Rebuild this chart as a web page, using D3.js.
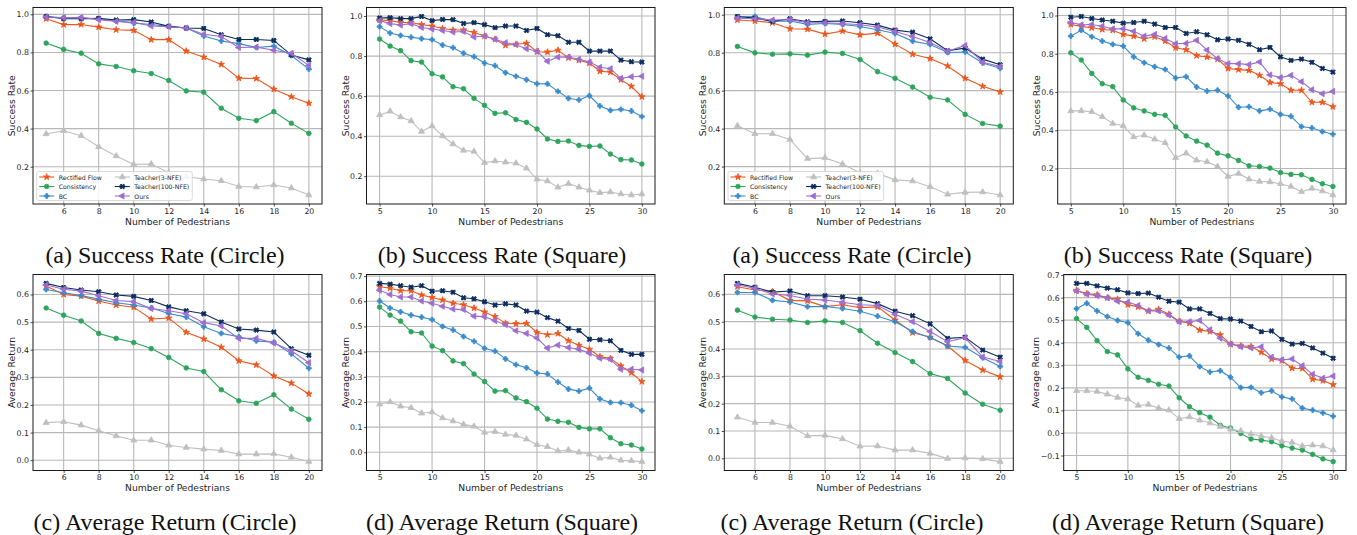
<!DOCTYPE html>
<html>
<head>
<meta charset="utf-8">
<script src="https://cdn.jsdelivr.net/npm/d3@7.9.0/dist/d3.min.js"></script>
<style>
  body { margin: 0; background: #fff; }
  svg { display: block; }
</style>
</head>
<body>
<svg id="fig" width="1357" height="535"></svg>
<script>
// Series names and x values
const seriesNames = ["Rectified Flow", "Consistency", "BC", "Teacher(3-NFE)", "Teacher(100-NFE)", "Ours"];
const xCircle = [5, 6, 7, 8, 9, 10, 11, 12, 13, 14, 15, 16, 17, 18, 19, 20];
const xSquare = [5, 6, 7, 8, 9, 10, 11, 12, 13, 14, 15, 16, 17, 18, 19, 20, 21, 22, 23, 24, 25, 26, 27, 28, 29, 30];

// Tick labels
const xTicksCircle = [6, 8, 10, 12, 14, 16, 18, 20];
const xTicksSquare = [5, 10, 15, 20, 25, 30];
const yTicksSuccess = [0.2, 0.4, 0.6, 0.8, 1.0];
const yTicksReturn6 = [0.0, 0.1, 0.2, 0.3, 0.4, 0.5, 0.6];
const yTicksReturn7 = [0.0, 0.1, 0.2, 0.3, 0.4, 0.5, 0.6, 0.7];
const yTicksReturnNeg = [-0.1, 0.0, 0.1, 0.2, 0.3, 0.4, 0.5, 0.6, 0.7];

const captions = ["(a) Success Rate (Circle)", "(b) Success Rate (Square)", "(a) Success Rate (Circle)", "(b) Success Rate (Square)",
  "(c) Average Return (Circle)", "(d) Average Return (Square)", "(c) Average Return (Circle)", "(d) Average Return (Square)"];

// rows follow seriesNames order
const srCircleA = [
  [0.977, 0.946, 0.947, 0.933, 0.919, 0.916, 0.867, 0.867, 0.807, 0.775, 0.737, 0.665, 0.663, 0.607, 0.567, 0.533],
  [0.849, 0.816, 0.796, 0.740, 0.726, 0.704, 0.689, 0.653, 0.598, 0.591, 0.507, 0.454, 0.442, 0.489, 0.428, 0.375],
  [0.989, 0.982, 0.981, 0.977, 0.965, 0.954, 0.947, 0.937, 0.928, 0.886, 0.860, 0.846, 0.826, 0.833, 0.784, 0.712],
  [0.372, 0.389, 0.363, 0.305, 0.256, 0.212, 0.214, 0.168, 0.147, 0.135, 0.126, 0.096, 0.093, 0.104, 0.088, 0.051],
  [0.989, 0.977, 0.977, 0.979, 0.970, 0.972, 0.960, 0.937, 0.928, 0.926, 0.893, 0.868, 0.868, 0.863, 0.786, 0.761],
  [0.986, 0.982, 0.984, 0.972, 0.963, 0.958, 0.939, 0.935, 0.928, 0.895, 0.884, 0.826, 0.828, 0.811, 0.796, 0.732]
];
const srSquareA = [
  [0.980, 0.977, 0.968, 0.968, 0.957, 0.950, 0.938, 0.930, 0.930, 0.918, 0.900, 0.884, 0.854, 0.859, 0.864, 0.822, 0.820, 0.829, 0.792, 0.779, 0.765, 0.724, 0.720, 0.682, 0.649, 0.597],
  [0.885, 0.850, 0.827, 0.777, 0.770, 0.712, 0.696, 0.647, 0.637, 0.589, 0.554, 0.514, 0.517, 0.483, 0.469, 0.436, 0.386, 0.374, 0.376, 0.354, 0.349, 0.351, 0.311, 0.283, 0.281, 0.261],
  [0.947, 0.915, 0.903, 0.894, 0.887, 0.882, 0.855, 0.842, 0.814, 0.797, 0.765, 0.752, 0.717, 0.699, 0.682, 0.662, 0.661, 0.624, 0.589, 0.581, 0.602, 0.551, 0.529, 0.534, 0.526, 0.498],
  [0.506, 0.524, 0.496, 0.476, 0.423, 0.451, 0.401, 0.361, 0.329, 0.324, 0.268, 0.276, 0.270, 0.265, 0.240, 0.185, 0.176, 0.145, 0.163, 0.145, 0.130, 0.118, 0.121, 0.111, 0.106, 0.111],
  [0.990, 0.992, 0.987, 0.987, 0.998, 0.977, 0.983, 0.982, 0.963, 0.967, 0.957, 0.942, 0.950, 0.950, 0.928, 0.938, 0.907, 0.902, 0.869, 0.869, 0.825, 0.825, 0.825, 0.780, 0.772, 0.770],
  [0.977, 0.962, 0.955, 0.962, 0.943, 0.935, 0.928, 0.920, 0.923, 0.895, 0.900, 0.884, 0.867, 0.857, 0.837, 0.825, 0.774, 0.795, 0.795, 0.784, 0.770, 0.744, 0.737, 0.689, 0.697, 0.699]
];
const srCircleB = [
  [0.972, 0.967, 0.958, 0.926, 0.924, 0.898, 0.914, 0.894, 0.903, 0.845, 0.792, 0.769, 0.730, 0.665, 0.623, 0.593],
  [0.833, 0.799, 0.792, 0.794, 0.787, 0.803, 0.796, 0.764, 0.700, 0.665, 0.619, 0.565, 0.551, 0.475, 0.427, 0.413],
  [0.988, 0.991, 0.965, 0.967, 0.949, 0.954, 0.949, 0.938, 0.921, 0.901, 0.861, 0.843, 0.801, 0.804, 0.746, 0.718],
  [0.415, 0.373, 0.373, 0.343, 0.242, 0.246, 0.214, 0.167, 0.165, 0.130, 0.124, 0.094, 0.054, 0.064, 0.066, 0.050],
  [0.991, 0.982, 0.965, 0.979, 0.963, 0.965, 0.967, 0.958, 0.945, 0.919, 0.908, 0.873, 0.811, 0.824, 0.766, 0.737],
  [0.982, 0.979, 0.972, 0.974, 0.958, 0.958, 0.954, 0.947, 0.935, 0.912, 0.885, 0.854, 0.808, 0.838, 0.750, 0.727]
];
const srSquareB = [
  [0.953, 0.943, 0.936, 0.927, 0.923, 0.901, 0.892, 0.878, 0.889, 0.866, 0.831, 0.821, 0.790, 0.783, 0.772, 0.723, 0.717, 0.713, 0.687, 0.650, 0.643, 0.609, 0.609, 0.546, 0.546, 0.523],
  [0.805, 0.767, 0.697, 0.643, 0.628, 0.558, 0.517, 0.501, 0.483, 0.478, 0.417, 0.370, 0.343, 0.322, 0.280, 0.266, 0.242, 0.214, 0.210, 0.202, 0.179, 0.169, 0.167, 0.143, 0.120, 0.106],
  [0.892, 0.923, 0.889, 0.866, 0.849, 0.840, 0.784, 0.753, 0.732, 0.718, 0.673, 0.680, 0.626, 0.605, 0.609, 0.579, 0.520, 0.523, 0.501, 0.510, 0.483, 0.473, 0.419, 0.412, 0.393, 0.379],
  [0.501, 0.501, 0.497, 0.471, 0.435, 0.423, 0.365, 0.374, 0.353, 0.334, 0.256, 0.280, 0.243, 0.235, 0.210, 0.158, 0.174, 0.144, 0.132, 0.130, 0.120, 0.106, 0.078, 0.096, 0.082, 0.061],
  [0.991, 0.995, 0.984, 0.976, 0.970, 0.960, 0.963, 0.970, 0.955, 0.937, 0.937, 0.906, 0.915, 0.899, 0.873, 0.877, 0.870, 0.849, 0.821, 0.833, 0.784, 0.765, 0.772, 0.755, 0.723, 0.704],
  [0.965, 0.951, 0.953, 0.944, 0.930, 0.930, 0.917, 0.892, 0.901, 0.880, 0.852, 0.854, 0.870, 0.819, 0.774, 0.748, 0.748, 0.743, 0.757, 0.689, 0.675, 0.687, 0.654, 0.612, 0.591, 0.603]
];
const arCircleA = [
  [0.631, 0.600, 0.594, 0.576, 0.562, 0.554, 0.511, 0.515, 0.463, 0.439, 0.409, 0.360, 0.345, 0.305, 0.279, 0.240],
  [0.551, 0.525, 0.504, 0.459, 0.441, 0.426, 0.404, 0.372, 0.334, 0.321, 0.255, 0.215, 0.206, 0.237, 0.185, 0.148],
  [0.618, 0.606, 0.596, 0.583, 0.570, 0.562, 0.551, 0.531, 0.518, 0.483, 0.459, 0.447, 0.432, 0.427, 0.385, 0.333],
  [0.136, 0.139, 0.127, 0.107, 0.088, 0.072, 0.072, 0.054, 0.046, 0.040, 0.035, 0.022, 0.022, 0.023, 0.011, -0.005],
  [0.640, 0.625, 0.616, 0.610, 0.598, 0.593, 0.578, 0.555, 0.541, 0.530, 0.500, 0.475, 0.471, 0.464, 0.404, 0.380],
  [0.634, 0.619, 0.612, 0.595, 0.578, 0.574, 0.549, 0.541, 0.530, 0.498, 0.486, 0.441, 0.441, 0.424, 0.396, 0.353]
];
const arSquareA = [
  [0.658, 0.652, 0.642, 0.642, 0.625, 0.615, 0.605, 0.592, 0.586, 0.573, 0.557, 0.539, 0.513, 0.511, 0.512, 0.476, 0.467, 0.472, 0.443, 0.425, 0.409, 0.380, 0.373, 0.343, 0.316, 0.281],
  [0.577, 0.545, 0.521, 0.479, 0.474, 0.422, 0.404, 0.363, 0.352, 0.311, 0.281, 0.243, 0.245, 0.216, 0.201, 0.175, 0.132, 0.123, 0.119, 0.099, 0.093, 0.093, 0.058, 0.034, 0.029, 0.013],
  [0.601, 0.573, 0.558, 0.545, 0.537, 0.527, 0.500, 0.486, 0.460, 0.441, 0.413, 0.402, 0.371, 0.348, 0.336, 0.315, 0.311, 0.279, 0.251, 0.243, 0.255, 0.212, 0.198, 0.197, 0.187, 0.165],
  [0.191, 0.200, 0.183, 0.177, 0.155, 0.160, 0.136, 0.124, 0.111, 0.103, 0.079, 0.082, 0.071, 0.067, 0.052, 0.030, 0.022, 0.005, 0.009, 0.000, -0.008, -0.024, -0.020, -0.032, -0.034, -0.037],
  [0.671, 0.668, 0.662, 0.656, 0.662, 0.640, 0.642, 0.636, 0.614, 0.610, 0.598, 0.585, 0.590, 0.585, 0.561, 0.557, 0.535, 0.521, 0.492, 0.484, 0.449, 0.447, 0.443, 0.405, 0.389, 0.389],
  [0.644, 0.627, 0.617, 0.617, 0.601, 0.592, 0.580, 0.569, 0.567, 0.541, 0.539, 0.523, 0.507, 0.483, 0.472, 0.454, 0.414, 0.426, 0.416, 0.409, 0.394, 0.374, 0.369, 0.330, 0.330, 0.327]
];
const arCircleB = [
  [0.628, 0.616, 0.610, 0.578, 0.576, 0.555, 0.562, 0.551, 0.554, 0.506, 0.460, 0.443, 0.411, 0.358, 0.323, 0.298],
  [0.542, 0.517, 0.509, 0.506, 0.497, 0.503, 0.497, 0.467, 0.421, 0.387, 0.354, 0.310, 0.292, 0.239, 0.198, 0.176],
  [0.607, 0.607, 0.578, 0.572, 0.555, 0.556, 0.548, 0.538, 0.520, 0.500, 0.464, 0.442, 0.411, 0.406, 0.368, 0.336],
  [0.150, 0.131, 0.131, 0.117, 0.082, 0.084, 0.071, 0.044, 0.045, 0.030, 0.030, 0.018, -0.001, 0.001, -0.002, -0.012],
  [0.640, 0.626, 0.608, 0.612, 0.595, 0.595, 0.590, 0.582, 0.566, 0.538, 0.522, 0.492, 0.439, 0.443, 0.396, 0.370],
  [0.634, 0.622, 0.601, 0.596, 0.583, 0.579, 0.571, 0.562, 0.559, 0.527, 0.500, 0.464, 0.427, 0.441, 0.371, 0.354]
];
const arSquareB = [
  [0.632, 0.618, 0.612, 0.599, 0.593, 0.569, 0.559, 0.541, 0.548, 0.526, 0.495, 0.486, 0.456, 0.450, 0.435, 0.394, 0.386, 0.383, 0.358, 0.328, 0.321, 0.287, 0.286, 0.238, 0.232, 0.214],
  [0.507, 0.468, 0.409, 0.361, 0.346, 0.284, 0.247, 0.233, 0.216, 0.208, 0.156, 0.116, 0.090, 0.070, 0.034, 0.022, -0.002, -0.027, -0.032, -0.039, -0.057, -0.067, -0.076, -0.095, -0.115, -0.127],
  [0.551, 0.575, 0.541, 0.516, 0.499, 0.489, 0.440, 0.411, 0.392, 0.376, 0.336, 0.342, 0.294, 0.270, 0.276, 0.247, 0.201, 0.202, 0.178, 0.187, 0.160, 0.151, 0.110, 0.101, 0.089, 0.074],
  [0.187, 0.187, 0.184, 0.172, 0.157, 0.150, 0.122, 0.126, 0.110, 0.101, 0.063, 0.071, 0.056, 0.044, 0.028, 0.016, 0.009, -0.005, -0.014, -0.021, -0.037, -0.042, -0.058, -0.054, -0.058, -0.076],
  [0.663, 0.663, 0.652, 0.642, 0.635, 0.621, 0.618, 0.620, 0.602, 0.584, 0.580, 0.550, 0.550, 0.530, 0.507, 0.505, 0.496, 0.472, 0.449, 0.452, 0.415, 0.394, 0.397, 0.377, 0.354, 0.331],
  [0.630, 0.615, 0.609, 0.599, 0.584, 0.580, 0.565, 0.541, 0.541, 0.523, 0.493, 0.493, 0.499, 0.458, 0.420, 0.394, 0.382, 0.377, 0.382, 0.336, 0.324, 0.328, 0.298, 0.260, 0.243, 0.252]
];

// Styles
const colors = ["#ec561c", "#2ea55c", "#3a8bcb", "#bfbfbf", "#0b2c5c", "#9d6dcf"];
const shapes = [
  { type: d3.symbolStar, size: 13, rot: 0 },
  { type: d3.symbolCircle, size: 17, rot: 0 },
  { type: d3.symbolCross, size: 13, rot: 0 },
  { type: d3.symbolTriangle, size: 16, rot: 0 },
  { type: d3.symbolCross, size: 15, rot: 45 },
  { type: d3.symbolTriangle, size: 16, rot: -90 }
];

// Layout: axes boxes [left, top, right, bottom]
const panels = [
  { data: srCircleA, xs: xCircle, xt: xTicksCircle, yt: yTicksSuccess, ylab: "Success Rate", box: [33, 7.5, 322, 204], legend: true, cap: 165 },
  { data: srSquareA, xs: xSquare, xt: xTicksSquare, yt: yTicksSuccess, ylab: "Success Rate", box: [366.5, 7.5, 655, 204], legend: false, cap: 502 },
  { data: srCircleB, xs: xCircle, xt: xTicksCircle, yt: yTicksSuccess, ylab: "Success Rate", box: [724.3, 7.5, 1013.3, 204], legend: true, cap: 852 },
  { data: srSquareB, xs: xSquare, xt: xTicksSquare, yt: yTicksSuccess, ylab: "Success Rate", box: [1057.7, 7.5, 1346, 204], legend: false, cap: 1188 },
  { data: arCircleA, xs: xCircle, xt: xTicksCircle, yt: yTicksReturn6, ylab: "Average Return", box: [33, 274.5, 322, 470.5], legend: false, cap: 165 },
  { data: arSquareA, xs: xSquare, xt: xTicksSquare, yt: yTicksReturn7, ylab: "Average Return", box: [366.5, 274.5, 655, 470.5], legend: false, cap: 502 },
  { data: arCircleB, xs: xCircle, xt: xTicksCircle, yt: yTicksReturn6, ylab: "Average Return", box: [724.3, 274.5, 1013.3, 470.5], legend: false, cap: 852 },
  { data: arSquareB, xs: xSquare, xt: xTicksSquare, yt: yTicksReturnNeg, ylab: "Average Return", box: [1063.7, 274.5, 1346, 470.5], legend: false, cap: 1188 }
];

const svg = d3.select("#fig");
const font = "DejaVu Sans, sans-serif";

function drawMarker(g, i, x, y) {
  const s = shapes[i];
  g.append("path")
    .attr("d", d3.symbol().type(s.type).size(s.size)())
    .attr("transform", `translate(${x},${y}) rotate(${s.rot})`)
    .attr("fill", colors[i])
    .attr("stroke", colors[i])
    .attr("stroke-width", 0.8)
    .attr("stroke-linejoin", "round");
}

panels.forEach((p, pi) => {
  const [l, t, r, b] = p.box;
  const n = p.xs.length - 1;
  const x = d3.scaleLinear()
    .domain([p.xs[0] - n * 0.05, p.xs[n] + n * 0.05])
    .range([l, r]);
  const all = p.data.flat();
  const lo = d3.min(all), hi = d3.max(all), pad = (hi - lo) * 0.05;
  const y = d3.scaleLinear().domain([lo - pad, hi + pad]).range([b, t]);

  const g = svg.append("g");

  // grid
  g.append("g").selectAll("line").data(p.xt).join("line")
    .attr("x1", d => x(d)).attr("x2", d => x(d))
    .attr("y1", t).attr("y2", b)
    .attr("stroke", "#b8b8b8").attr("stroke-width", 1.1);
  g.append("g").selectAll("line").data(p.yt).join("line")
    .attr("x1", l).attr("x2", r)
    .attr("y1", d => y(d)).attr("y2", d => y(d))
    .attr("stroke", "#b8b8b8").attr("stroke-width", 1.1);

  // axes
  const xAxis = g.append("g").attr("transform", `translate(0,${b})`)
    .call(d3.axisBottom(x).tickValues(p.xt).tickSize(2.5).tickPadding(1.5).tickFormat(d3.format("d")));
  const yAxis = g.append("g").attr("transform", `translate(${l},0)`)
    .call(d3.axisLeft(y).tickValues(p.yt).tickSize(2.5).tickPadding(1.5).tickFormat(d3.format(".1f")));
  [xAxis, yAxis].forEach(a => {
    a.select(".domain").remove();
    a.selectAll(".tick line").attr("stroke", "#222").attr("stroke-width", 0.8);
    a.selectAll(".tick text").attr("font-family", font).attr("font-size", 7.8).attr("fill", "#262626");
  });

  // series
  const line = d3.line().x((d, i) => x(p.xs[i])).y(d => y(d));
  p.data.forEach((vals, si) => {
    const sg = g.append("g");
    sg.append("path").datum(vals)
      .attr("d", line)
      .attr("fill", "none")
      .attr("stroke", colors[si])
      .attr("stroke-width", 1.1);
    vals.forEach((v, i) => drawMarker(sg, si, x(p.xs[i]), y(v)));
  });

  // frame
  g.append("rect")
    .attr("x", l).attr("y", t).attr("width", r - l).attr("height", b - t)
    .attr("fill", "none").attr("stroke", "#1a1a1a").attr("stroke-width", 1);

  // labels
  g.append("text")
    .attr("x", (l + r) / 2).attr("y", b + 20.5)
    .attr("text-anchor", "middle")
    .attr("font-family", font).attr("font-size", 9.2).attr("fill", "#262626")
    .text("Number of Pedestrians");
  let maxw = 0;
  yAxis.selectAll(".tick text").each(function () { maxw = Math.max(maxw, this.getComputedTextLength()); });
  const yl = l - 4 - maxw - 5;
  g.append("text")
    .attr("transform", `translate(${yl},${(t + b) / 2}) rotate(-90)`)
    .attr("text-anchor", "middle").attr("dominant-baseline", "central")
    .attr("font-family", font).attr("font-size", 9.2).attr("fill", "#262626")
    .text(p.ylab);

  // caption
  svg.append("text")
    .attr("x", p.cap).attr("y", b + 59)
    .attr("text-anchor", "middle")
    .attr("font-family", "Liberation Serif, Times New Roman, serif")
    .attr("font-size", 24).attr("fill", "#111")
    .text(captions[pi]);

  // legend
  if (p.legend) {
    const lg = g.append("g");
    const fs = 6.2, rowH = 9.5, handle = 15;
    const bx = l + 3.7, bh = 29, by = b - 3.5 - bh;
    const frame = lg.append("rect")
      .attr("x", bx).attr("y", by).attr("height", bh).attr("rx", 2)
      .attr("fill", "#fff").attr("fill-opacity", 0.85)
      .attr("stroke", "#d0d0d0").attr("stroke-width", 0.8);
    let cx = bx + 2.5, colMax = 0, right = 0;
    seriesNames.forEach((name, si) => {
      const col = Math.floor(si / 3), row = si % 3;
      if (row === 0 && col > 0) { cx += handle + 4.5 + colMax + 13; colMax = 0; }
      const cy = by + 5.5 + row * rowH;
      lg.append("line")
        .attr("x1", cx).attr("x2", cx + handle).attr("y1", cy).attr("y2", cy)
        .attr("stroke", colors[si]).attr("stroke-width", 1.1);
      drawMarker(lg, si, cx + handle / 2, cy);
      const tx = lg.append("text")
        .attr("x", cx + handle + 4.5).attr("y", cy)
        .attr("dominant-baseline", "central")
        .attr("font-family", font).attr("font-size", fs).attr("fill", "#262626")
        .text(name);
      const w = tx.node().getComputedTextLength();
      colMax = Math.max(colMax, w);
      right = Math.max(right, cx + handle + 4.5 + w);
    });
    frame.attr("width", right + 3 - bx);
  }
});
</script>
</body>
</html>
